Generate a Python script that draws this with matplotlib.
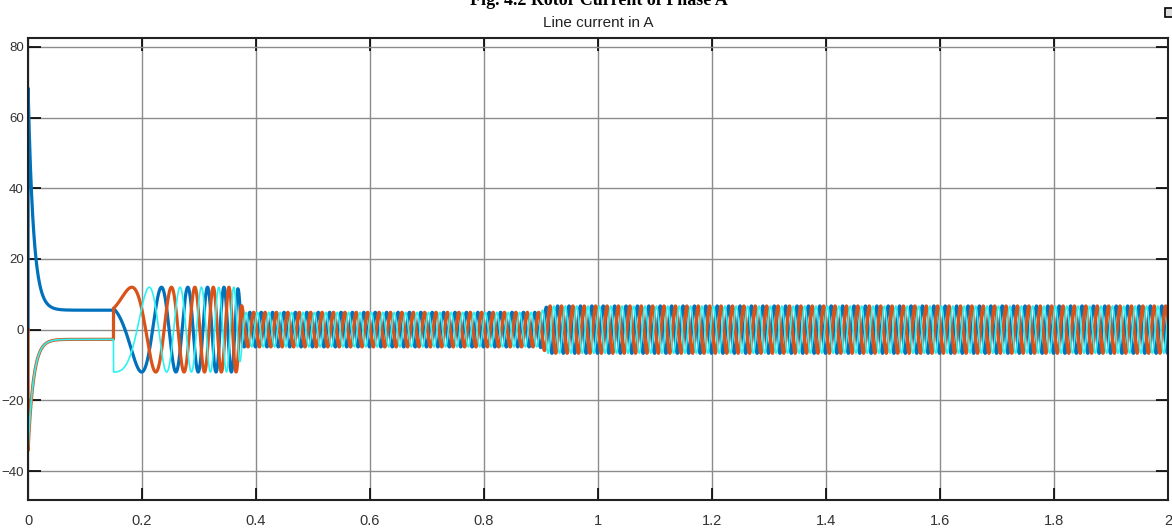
"""Simulink scope style plot: three phase rotor currents."""

import numpy as np
import matplotlib

matplotlib.use("Agg")
import matplotlib.pyplot as plt
from matplotlib.patches import Rectangle

# values
phase_names = ["A", "B", "C"]
phase_colors = ["#0072BD", "#D95319", "#2CF2F2"]
phase_widths = [2.3, 2.3, 1.2]
phase_shift_deg = [60.0, -60.0, 180.0]

dc_start = [69.0, -34.5, -34.5]      # value just after t = 0
dc_settled = [5.5, -2.75, -2.75]     # level reached before the start-up at 0.15 s
dc_tau = 0.0095

sweep_times = [0.15, 0.37]           # frequency ramp start / end
sweep_freqs = [2.3, 42.0]            # Hz
grid_freq = 50.0

amp_times = [0.15, 0.368, 0.378, 0.898, 0.912, 2.0]
amp_values = [12.0, 12.0, 4.9, 4.9, 6.7, 6.7]

x_ticks = [0, 0.2, 0.4, 0.6, 0.8, 1, 1.2, 1.4, 1.6, 1.8, 2]
x_labels = ["0", "0.2", "0.4", "0.6", "0.8", "1", "1.2", "1.4", "1.6", "1.8", "2"]
y_ticks = [-40, -20, 0, 20, 40, 60, 80]

label_font = ["Liberation Sans", "DejaVu Sans"]

t = np.arange(0, 2.0 + 1e-5, 1e-4)

# phase angle of the rotating current
t0, t1 = sweep_times
f0, f1 = sweep_freqs
tau = np.clip(t - t0, 0, t1 - t0)
theta = 2 * np.pi * (f0 * tau + (f1 - f0) / (2 * (t1 - t0)) * tau ** 2)
theta = theta + 2 * np.pi * grid_freq * np.clip(t - t1, 0, None)
amp = np.interp(t, amp_times, amp_values)

fig = plt.figure(figsize=(11.72, 5.32), dpi=100)
ax = fig.add_axes([28 / 1172, 32 / 532, 1140 / 1172, 462 / 532])

for i, name in enumerate(phase_names):
    dc = dc_settled[i] + (dc_start[i] - dc_settled[i]) * np.exp(-t / dc_tau)
    dc[0] = 0.0
    ac = amp * np.cos(theta + np.deg2rad(phase_shift_deg[i]))
    y = np.where(t < t0, dc, ac)
    ax.plot(t, y, color=phase_colors[i], lw=phase_widths[i], label=name)

ax.set_xlim(0, 2)
ax.set_ylim(-48.2, 82.5)
ax.set_xticks(x_ticks)
ax.set_xticklabels(x_labels)
ax.set_yticks(y_ticks)
ax.grid(True, color="#8c8c8c", lw=1.0)
ax.set_axisbelow(True)
ax.tick_params(direction="in", length=9, width=1.2, top=True, right=True,
               labelsize=10.5, colors="black")
ax.tick_params(axis="y", labelsize=9.5, pad=3)
ax.tick_params(axis="x", pad=10)
for lab in ax.get_xticklabels() + ax.get_yticklabels():
    lab.set_family(label_font)
    lab.set_color("#333333")
for sp in ax.spines.values():
    sp.set_linewidth(1.5)
    sp.set_color("#222222")

ax.set_title("Line current in A", family=label_font, fontsize=11, pad=8,
             color="#222222")
fig.text(0.511, 0.991, "Fig. 4.2 Rotor Current of Phase A", ha="center",
         va="baseline", family=["Liberation Serif", "DejaVu Serif"],
         fontweight="bold", fontsize=13)
fig.patches.append(Rectangle((1165 / 1172, (532 - 17) / 532), 9 / 1172, 9 / 532,
                             transform=fig.transFigure, fill=True,
                             facecolor="#dddddd", edgecolor="black", lw=1.2))

fig.savefig("out.png", dpi=100)
plt.close(fig)
